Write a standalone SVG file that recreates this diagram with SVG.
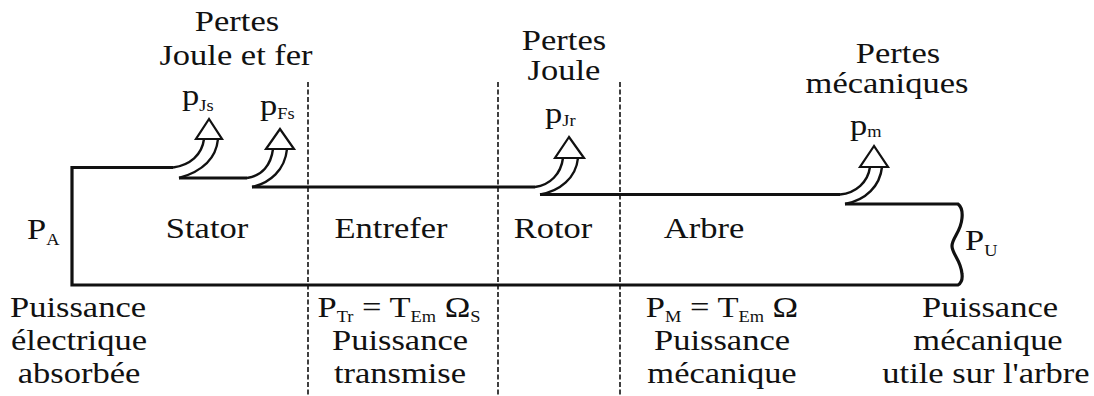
<svg xmlns="http://www.w3.org/2000/svg" width="1094" height="396" viewBox="0 0 1094 396" font-family="'Liberation Serif', 'Times New Roman', Times, serif">
<style>
text{font-size:30px;fill:#111}
.s{font-size:16px}
.flow{fill:none;stroke:#111;stroke-width:3.2;stroke-linejoin:miter}
.band{fill:none;stroke:#111;stroke-width:2.4}
.head{fill:#fff;stroke:#111;stroke-width:2.2;stroke-linejoin:miter}
.dash{stroke:#111;stroke-width:1.6;stroke-dasharray:5 2.5}
</style>
<rect width="1094" height="396" fill="#fff"/>

<g id="boundaries">
<line class="dash" x1="308" y1="82" x2="308" y2="396"/>
<line class="dash" x1="498" y1="82" x2="498" y2="396"/>
<line class="dash" x1="620" y1="82" x2="620" y2="396"/>
</g>

<g id="connectors">
<path class="flow" d="M173,167.5 H72 V285 H958 Q963,282 962,274 C961,260 952,254 952,246 C952,238 961,232 962,218 Q963,208 958,204 H845"/>
<path class="flow" d="M179,178 H247"/>
<path class="flow" d="M252,187 H535"/>
<path class="flow" d="M540,194.5 H840"/>
<g id="arrow-pJs">
<path class="band" d="M173,167.5 C190,165 202,155 204,139"/>
<path class="band" d="M179,178 C200,172 216,160 218,139"/>
<path class="head" d="M209,119 L196,139 L222,139 Z"/>
</g>
<g id="arrow-pFs">
<path class="band" d="M247,178 C262,176 271,165 273,149"/>
<path class="band" d="M252,187 C270,183 285,170 287,149"/>
<path class="head" d="M280,129 L266,149 L294,149 Z"/>
</g>
<g id="arrow-pJr">
<path class="band" d="M535,187 C550,185 561,174 563,158"/>
<path class="band" d="M540,194.5 C560,191 576,178 578,158"/>
<path class="head" d="M569,137 L555,158 L584,158 Z"/>
</g>
<g id="arrow-pm">
<path class="band" d="M840,194.5 C856,193 868,182 870,167"/>
<path class="band" d="M845,204 C866,200 880,186 882,167"/>
<path class="head" d="M874,146 L860,167 L888,167 Z"/>
</g>
</g>

<g id="pertes-stator">
<text text-anchor="middle" transform="translate(237,31) scale(1.15,1)">Pertes</text>
<text text-anchor="middle" transform="translate(236,65) scale(1.15,1)">Joule et fer</text>
<text transform="translate(182,105) scale(1.15,1)">p<tspan class="s" dy="6">Js</tspan></text>
<text transform="translate(260,115) scale(1.15,1)">p<tspan class="s" dy="4">Fs</tspan></text>
</g>

<g id="pertes-rotor">
<text text-anchor="middle" transform="translate(564,50) scale(1.15,1)">Pertes</text>
<text text-anchor="middle" transform="translate(564,80) scale(1.15,1)">Joule</text>
<text transform="translate(545,123) scale(1.15,1)">p<tspan class="s" dy="3">Jr</tspan></text>
</g>

<g id="pertes-mecaniques">
<text text-anchor="middle" transform="translate(898,63) scale(1.15,1)">Pertes</text>
<text text-anchor="middle" transform="translate(887,93) scale(1.15,1)">mécaniques</text>
<text transform="translate(850,135) scale(1.15,1)">p<tspan class="s" dy="2">m</tspan></text>
</g>

<g id="entree">
<text transform="translate(27,239) scale(1.15,1)">P<tspan class="s" dy="6">A</tspan></text>
<text text-anchor="middle" transform="translate(78,317) scale(1.15,1)">Puissance</text>
<text text-anchor="middle" transform="translate(79,350) scale(1.15,1)">électrique</text>
<text text-anchor="middle" transform="translate(79,383) scale(1.15,1)">absorbée</text>
</g>

<g id="stator">
<text text-anchor="middle" transform="translate(207,238) scale(1.15,1)">Stator</text>
</g>

<g id="entrefer">
<text text-anchor="middle" transform="translate(391,238) scale(1.15,1)">Entrefer</text>
<text text-anchor="middle" transform="translate(399,317) scale(1.15,1)">P<tspan class="s" dy="5">Tr</tspan><tspan dy="-5"> = T</tspan><tspan class="s" dy="5">Em</tspan><tspan dy="-5"> Ω</tspan><tspan class="s" dy="5">S</tspan></text>
<text text-anchor="middle" transform="translate(400,350) scale(1.15,1)">Puissance</text>
<text text-anchor="middle" transform="translate(400,383) scale(1.15,1)">transmise</text>
</g>

<g id="rotor">
<text text-anchor="middle" transform="translate(553,238) scale(1.15,1)">Rotor</text>
</g>

<g id="arbre">
<text text-anchor="middle" transform="translate(704,238) scale(1.15,1)">Arbre</text>
<text text-anchor="middle" transform="translate(722,317) scale(1.15,1)">P<tspan class="s" dy="5">M</tspan><tspan dy="-5"> = T</tspan><tspan class="s" dy="5">Em</tspan><tspan dy="-5"> Ω</tspan></text>
<text text-anchor="middle" transform="translate(722,350) scale(1.15,1)">Puissance</text>
<text text-anchor="middle" transform="translate(722,383) scale(1.15,1)">mécanique</text>
</g>

<g id="sortie">
<text transform="translate(965,250) scale(1.15,1)">P<tspan class="s" dy="6">U</tspan></text>
<text text-anchor="middle" transform="translate(990,317) scale(1.15,1)">Puissance</text>
<text text-anchor="middle" transform="translate(988,350) scale(1.15,1)">mécanique</text>
<text text-anchor="middle" transform="translate(986,383) scale(1.15,1)">utile sur l'arbre</text>
</g>
</svg>
